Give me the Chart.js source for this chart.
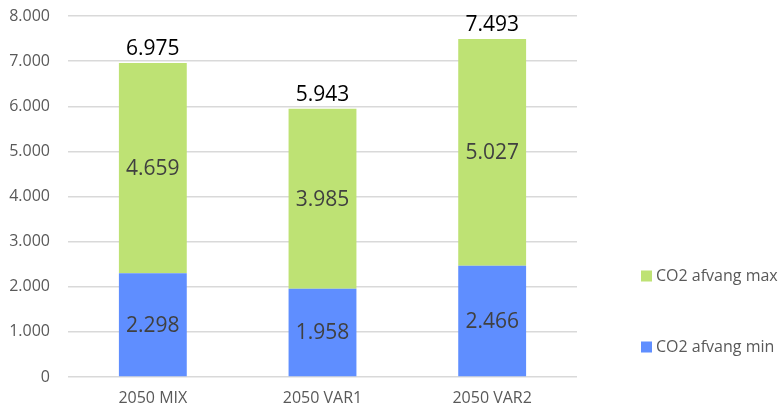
<!DOCTYPE html>
<html>
<head>
<meta charset="utf-8">
<script src="https://cdn.jsdelivr.net/npm/chart.js@4"></script>
<style>
html,body{margin:0;padding:0;background:#fff;}
#wrap{width:779px;height:412px;position:relative;}
</style>
</head>
<body>
<div id="wrap"><canvas id="c" width="779" height="412"></canvas></div>
<script>
const categories = ['2050 MIX', '2050 VAR1', '2050 VAR2'];
const co2Min = [2298, 1958, 2466];
const co2Max = [4659, 3985, 5027];
const totalLabels = [6975, 5943, 7493];
const yTicks = [0, 1000, 2000, 3000, 4000, 5000, 6000, 7000, 8000];

const FONT = '"Open Sans", Lato, sans-serif';
const fmt = v => String(v).replace(/\B(?=(\d{3})+(?!\d))/g, '.');

const labelPlugin = {
  id: 'labels',
  afterDatasetsDraw(chart) {
    const ctx = chart.ctx;
    ctx.save();
    ctx.textAlign = 'center';
    ctx.textBaseline = 'middle';
    chart.data.datasets.forEach((ds, di) => {
      const meta = chart.getDatasetMeta(di);
      meta.data.forEach((el, i) => {
        ctx.font = '21px ' + FONT;
        ctx.fillStyle = '#404040';
        ctx.fillText(fmt(ds.data[i]), el.x, (el.y + el.base) / 2 + 1);
      });
    });
    const topMeta = chart.getDatasetMeta(chart.data.datasets.length - 1);
    topMeta.data.forEach((el, i) => {
      ctx.font = '21px ' + FONT;
      ctx.fillStyle = '#000000';
      ctx.fillText(fmt(totalLabels[i]), el.x, el.y - 14);
    });
    ctx.restore();
  }
};

const legendPlugin = {
  id: 'customLegend',
  afterDraw(chart) {
    const ctx = chart.ctx;
    ctx.save();
    const ds = chart.data.datasets;
    const rows = [ds[1], ds[0]];
    const ys = [276, 347];
    rows.forEach((d, k) => {
      ctx.fillStyle = d.backgroundColor;
      ctx.fillRect(641, ys[k] - 5.5, 11, 11);
      ctx.font = '16px ' + FONT;
      ctx.fillStyle = '#595959';
      ctx.textAlign = 'left';
      ctx.textBaseline = 'middle';
      ctx.fillText(d.label, 656, ys[k]);
    });
    ctx.restore();
  }
};

new Chart(document.getElementById('c'), {
  type: 'bar',
  data: {
    labels: categories,
    datasets: [
      { label: 'CO2 afvang min', data: co2Min, backgroundColor: '#5F8EFF', barPercentage: 0.4, categoryPercentage: 1.0 },
      { label: 'CO2 afvang max', data: co2Max, backgroundColor: '#BEE274', barPercentage: 0.4, categoryPercentage: 1.0 }
    ]
  },
  options: {
    responsive: false,
    animation: false,
    layout: { padding: { top: 16, right: 202, bottom: 0, left: 0 } },
    plugins: { legend: { display: false }, tooltip: { enabled: false } },
    scales: {
      x: {
        stacked: true,
        grid: { display: false, drawTicks: false },
        border: { display: false },
        ticks: { color: '#595959', font: { family: FONT, size: 16 }, padding: 12 },
        afterFit(s) { s.height = 35; }
      },
      y: {
        stacked: true,
        min: 0, max: 8000,
        afterBuildTicks(s) { s.ticks = yTicks.map(v => ({ value: v })); },
        grid: { color: '#D9D9D9', lineWidth: 1.5, drawTicks: false },
        border: { display: false },
        ticks: { color: '#595959', font: { family: FONT, size: 16 }, padding: 18, callback: v => fmt(v) },
        afterFit(s) { s.width = 68; s.paddingTop = 0; s.paddingBottom = 0; }
      }
    }
  },
  plugins: [labelPlugin, legendPlugin]
});
</script>
</body>
</html>
